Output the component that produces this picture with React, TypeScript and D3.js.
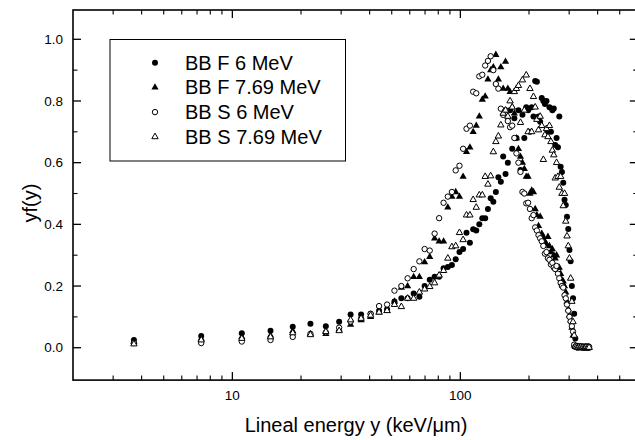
import React from "react";
import * as d3 from "d3";

// Lineal energy bins (keV/µm)
const energyBins = [
  3.7, 7.3, 11.0, 14.7, 18.4, 22.0, 25.7, 29.4, 33.0, 36.7,
  40.4, 44.0, 47.7, 51.4, 55.1, 58.7, 62.4, 66.1, 69.7, 73.4,
  77.1, 80.7, 84.4, 88.1, 91.8, 95.4, 99.1, 102.8, 106.4, 110.1,
  113.8, 117.4, 121.1, 124.8, 128.5, 132.1, 135.8, 139.5, 143.1, 146.8,
  150.5, 154.1, 157.8, 161.5, 165.2, 168.8, 172.5, 176.2, 179.8, 183.5,
  187.2, 190.8, 194.5, 198.2, 201.9, 205.5, 209.2, 212.9, 216.5, 220.2,
  223.9, 227.5, 231.2, 234.9, 238.6, 242.2, 245.9, 249.6, 253.2, 256.9,
  260.6, 264.2, 267.9, 271.6, 275.3, 278.9, 282.6, 286.3, 289.9, 293.6,
  297.3, 300.9, 304.6, 308.3, 312.0, 315.6, 319.3, 323.0, 326.6, 330.3,
  334.0, 337.6, 341.3, 345.0, 348.7, 352.3, 356.0, 359.7, 363.3, 367.0,
];

const bbF6 = [
  0.025, 0.038, 0.047, 0.055, 0.068, 0.078, 0.07, 0.084, 0.108, 0.108,
  0.11, 0.12, 0.125, 0.15, 0.16, 0.16, 0.176, 0.165, 0.2, 0.22,
  0.23, 0.23, 0.258, 0.262, 0.268, 0.287, 0.31, 0.32, 0.373, 0.34,
  0.384, 0.38, 0.4, 0.42, 0.42, 0.45, 0.485, 0.473, 0.505, 0.553,
  0.538, 0.62, 0.563, 0.6, 0.77, 0.645, 0.744, 0.68, 0.77, 0.576,
  0.755, 0.68, 0.78, 0.77, 0.7, 0.78, 0.75, 0.865, 0.862, 0.75,
  0.733, 0.81, 0.8, 0.79, 0.8, 0.7, 0.78, 0.7, 0.77, 0.776,
  0.657, 0.68, 0.65, 0.75, 0.587, 0.57, 0.535, 0.48, 0.463, 0.425,
  0.385, 0.317, 0.28, 0.2, 0.16, 0.11, 0.03, 0.005, 0.003, 0.004,
  0.002, 0.003, 0.001, 0.002, 0.0, 0.002, 0.001, 0.0, 0.001, 0.0,
];

const bbF769 = [
  0.02, 0.03, 0.035, 0.04, 0.055, 0.045, 0.045, 0.06, 0.075, 0.09,
  0.1, 0.115, 0.12, 0.15, 0.195, 0.2, 0.23, 0.23, 0.278, 0.295,
  0.355, 0.345, 0.345, 0.455, 0.49, 0.505, 0.49, 0.555, 0.635, 0.65,
  0.7, 0.72, 0.75, 0.805, 0.815, 0.87, 0.9, 0.91, 0.95, 0.87,
  0.91, 0.84, 0.928, 0.84, 0.83, 0.78, 0.76, 0.68, 0.645, 0.62,
  0.6, 0.58, 0.555, 0.555, 0.5, 0.51, 0.505, 0.45, 0.43, 0.395,
  0.425, 0.37, 0.36, 0.345, 0.335, 0.36, 0.33, 0.31, 0.32, 0.3,
  0.29, 0.3, 0.26, 0.26, 0.24, 0.22, 0.215, 0.2, 0.18, 0.15,
  0.125, 0.105, 0.09, 0.065, 0.04, 0.008, 0.003, 0.002, 0.004, 0.001,
  0.003, 0.002, 0.0, 0.002, 0.001, 0.003, 0.0, 0.001, 0.002, 0.0,
];

const bbS6 = [
  0.015, 0.015, 0.02, 0.025, 0.035, 0.045, 0.05, 0.065, 0.085, 0.095,
  0.11, 0.135, 0.14, 0.185, 0.2, 0.225, 0.255, 0.28, 0.32, 0.315,
  0.37, 0.42, 0.47, 0.49, 0.505, 0.575, 0.59, 0.645, 0.71, 0.72,
  0.83, 0.825, 0.88, 0.885, 0.915, 0.93, 0.945, 0.9, 0.855, 0.84,
  0.775, 0.755, 0.77, 0.735, 0.715, 0.72, 0.68, 0.63, 0.6, 0.57,
  0.505, 0.5, 0.468, 0.47, 0.45, 0.42, 0.43, 0.39, 0.38, 0.365,
  0.355, 0.345, 0.33, 0.305, 0.31, 0.29, 0.285, 0.27, 0.275, 0.26,
  0.255, 0.265, 0.24, 0.225, 0.21, 0.2, 0.195, 0.17, 0.16, 0.14,
  0.12, 0.1, 0.085, 0.07, 0.052, 0.01, 0.004, 0.002, 0.0, 0.003,
  0.001, 0.002, 0.003, 0.0, 0.002, 0.001, 0.0, 0.002, 0.001, 0.003,
];

const bbS769 = [
  0.012, 0.025, 0.03, 0.035, 0.048, 0.042, 0.052, 0.055, 0.09, 0.095,
  0.105, 0.115, 0.12, 0.14, 0.133, 0.16, 0.16, 0.18, 0.19, 0.198,
  0.21, 0.235, 0.25, 0.29, 0.327, 0.33, 0.373, 0.35, 0.43, 0.43,
  0.48, 0.455, 0.495, 0.495, 0.555, 0.53, 0.557, 0.635, 0.668, 0.686,
  0.722, 0.76, 0.77, 0.75, 0.8, 0.78, 0.83, 0.84, 0.85, 0.73,
  0.868, 0.77, 0.884, 0.7, 0.84, 0.7, 0.814, 0.78, 0.74, 0.706,
  0.75, 0.72, 0.61, 0.69, 0.71, 0.684, 0.72, 0.668, 0.64, 0.625,
  0.55, 0.6, 0.555, 0.52, 0.555, 0.5, 0.46, 0.5, 0.41, 0.362,
  0.33, 0.29, 0.225, 0.15, 0.084, 0.04, 0.005, 0.003, 0.001, 0.002,
  0.0, 0.003, 0.001, 0.002, 0.0, 0.001, 0.003, 0.0, 0.002, 0.001,
];

const seriesNames = ["BB F 6 MeV", "BB F 7.69 MeV", "BB S 6 MeV", "BB S 7.69 MeV"];
const yMajorTicks = [0.0, 0.2, 0.4, 0.6, 0.8, 1.0];
const yMinorTicks = [0.1, 0.3, 0.5, 0.7, 0.9];
const xMajorTicks = [10, 100];
const xMinorTicks = [3, 4, 5, 6, 7, 8, 9, 20, 30, 40, 50, 60, 70, 80, 90, 200, 300, 400, 500];

const W = 635;
const H = 440;
const left = 73;
const x = d3.scaleLog().domain([2, 600]).range([left, left + 228 * Math.log10(300)]);
const y = d3.scaleLinear().domain([-0.105, 1.095]).range([380.1, 10]);

const FONT = "Liberation Sans, Arial, Helvetica, sans-serif";

type Shape = "circle" | "triangle";
const styles: { shape: Shape; filled: boolean }[] = [
  { shape: "circle", filled: true },
  { shape: "triangle", filled: true },
  { shape: "circle", filled: false },
  { shape: "triangle", filled: false },
];

function Marker({ cx, cy, shape, filled }: { cx: number; cy: number; shape: Shape; filled: boolean }) {
  if (shape === "circle") {
    return filled ? (
      <circle cx={cx} cy={cy} r={3} fill="#000" />
    ) : (
      <circle cx={cx} cy={cy} r={2.7} fill="#fff" stroke="#000" strokeWidth={1} />
    );
  }
  return filled ? (
    <path d="M0,-4.1L3.6,2.2L-3.6,2.2Z" transform={`translate(${cx},${cy})`} fill="#000" />
  ) : (
    <path d="M0,-3.7L3.2,1.9L-3.2,1.9Z" transform={`translate(${cx},${cy})`} fill="#fff" stroke="#000" strokeWidth={1} />
  );
}

export default function App() {
  const allSeries = [bbF6, bbF769, bbS6, bbS769];
  const x0 = x.range()[0];
  const x1 = x.range()[1];
  const yTop = y.range()[1];
  const yBot = y.range()[0];
  return (
    <svg width={W} height={H} style={{ position: "absolute", left: 0, top: 0, background: "#fff" }}>
      <rect x={0} y={0} width={W} height={H} fill="#fff" />
      {allSeries.map((vals, si) => (
        <g key={si}>
          {vals.map((v, i) => (
            <Marker key={i} cx={x(energyBins[i])} cy={y(v)} shape={styles[si].shape} filled={styles[si].filled} />
          ))}
        </g>
      ))}
      <rect x={x0} y={yTop} width={x1 - x0} height={yBot - yTop} fill="none" stroke="#000" strokeWidth={1.6} />
      {xMajorTicks.map((t) => (
        <g key={"xm" + t}>
          <line x1={x(t)} x2={x(t)} y1={yBot} y2={yBot - 8} stroke="#000" strokeWidth={1.3} />
          <line x1={x(t)} x2={x(t)} y1={yTop} y2={yTop + 8} stroke="#000" strokeWidth={1.3} />
          <text x={x(t)} y={400} textAnchor="middle" fontFamily={FONT} fontSize={13.5}>
            {t}
          </text>
        </g>
      ))}
      {xMinorTicks.map((t) => (
        <g key={"xn" + t}>
          <line x1={x(t)} x2={x(t)} y1={yBot} y2={yBot - 4.5} stroke="#000" strokeWidth={1.1} />
          <line x1={x(t)} x2={x(t)} y1={yTop} y2={yTop + 4.5} stroke="#000" strokeWidth={1.1} />
        </g>
      ))}
      {yMajorTicks.map((t) => (
        <g key={"ym" + t}>
          <line x1={x0} x2={x0 + 8} y1={y(t)} y2={y(t)} stroke="#000" strokeWidth={1.3} />
          <line x1={x1} x2={x1 - 8} y1={y(t)} y2={y(t)} stroke="#000" strokeWidth={1.3} />
          <text x={63} y={y(t) + 4.7} textAnchor="end" fontFamily={FONT} fontSize={13.5}>
            {t.toFixed(1)}
          </text>
        </g>
      ))}
      {yMinorTicks.map((t) => (
        <g key={"yn" + t}>
          <line x1={x0} x2={x0 + 4.5} y1={y(t)} y2={y(t)} stroke="#000" strokeWidth={1.1} />
          <line x1={x1} x2={x1 - 4.5} y1={y(t)} y2={y(t)} stroke="#000" strokeWidth={1.1} />
        </g>
      ))}
      <text x={356} y={432} textAnchor="middle" fontFamily={FONT} fontSize={20}>
        Lineal energy y (keV/μm)
      </text>
      <text transform={`translate(37,203) rotate(-90)`} textAnchor="middle" fontFamily={FONT} fontSize={20}>
        yf(y)
      </text>
      <rect x={110} y={39.5} width={235.5} height={121.5} fill="#fff" stroke="#000" strokeWidth={1} />
      {seriesNames.map((name, i) => {
        const cy = 62.7 + i * 24.7;
        return (
          <g key={name}>
            <Marker cx={155} cy={cy} shape={styles[i].shape} filled={styles[i].filled} />
            <text x={185} y={cy + 7} fontFamily={FONT} fontSize={20}>
              {name}
            </text>
          </g>
        );
      })}
    </svg>
  );
}
